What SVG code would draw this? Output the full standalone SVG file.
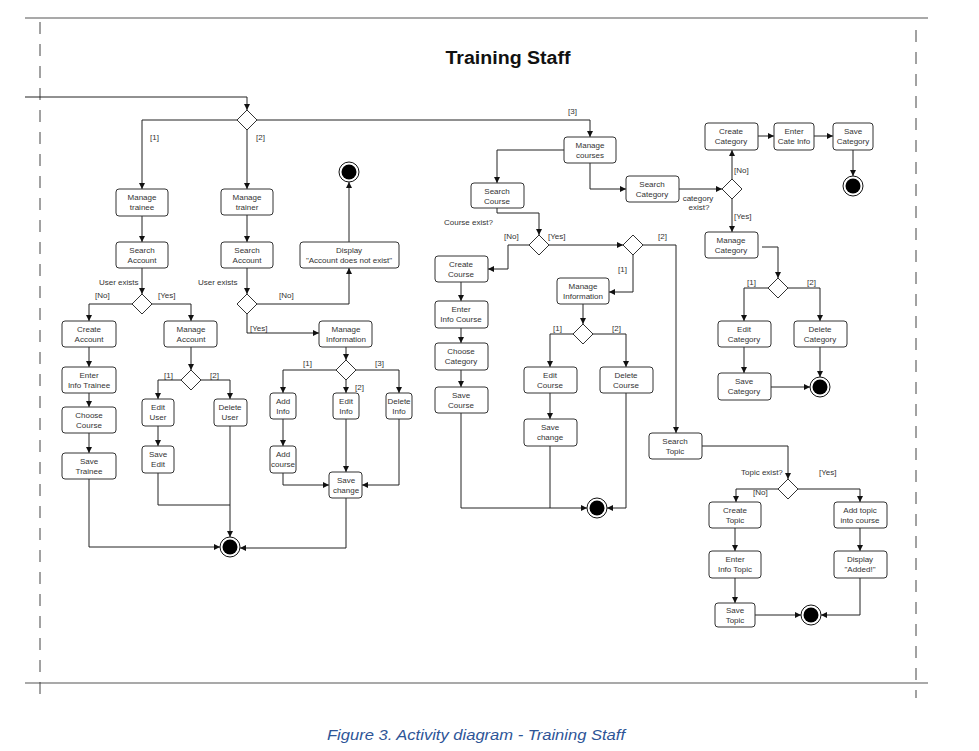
<svg xmlns="http://www.w3.org/2000/svg" width="979" height="751" viewBox="0 0 979 751">
<defs>
<marker id="arr" markerUnits="userSpaceOnUse" markerWidth="7" markerHeight="6" refX="6" refY="3" orient="auto"><path d="M0,0 L6,3 L0,6 z" fill="#111"/></marker>
<style>
.box{fill:#fff;stroke:#333;stroke-width:1}
.dia{fill:#fff;stroke:#333;stroke-width:1}
.t{font-family:"Liberation Sans",Arial,sans-serif;font-size:8px;fill:#333;text-anchor:middle}
.l{font-family:"Liberation Sans",Arial,sans-serif;font-size:8px;fill:#333}
.c path{fill:none;stroke:#222;stroke-width:1}
.c path.a{marker-end:url(#arr)}
.fo{fill:#fff;stroke:#111;stroke-width:1}
.fi{fill:#000}
.frame{stroke:#555;stroke-width:1.2;fill:none}
.dash{stroke:#444;stroke-width:1;stroke-dasharray:12 10;fill:none}
</style>
</defs>
<rect width="979" height="751" fill="#fff"/>
<g id="frame">
<line class="frame" x1="25" y1="18" x2="928" y2="18"/>
<line class="frame" x1="25" y1="683" x2="928" y2="683"/>
<line class="dash" x1="40" y1="22" x2="40" y2="694"/>
<line class="dash" x1="916" y1="30" x2="916" y2="698"/>
<text x="508" y="64" font-family="'Liberation Sans',Arial,sans-serif" font-size="18" font-weight="bold" text-anchor="middle" fill="#111" textLength="125" lengthAdjust="spacingAndGlyphs">Training Staff</text>
<text x="476" y="740" font-family="'Liberation Sans',Arial,sans-serif" font-size="15" font-style="italic" text-anchor="middle" fill="#2E5597" textLength="298" lengthAdjust="spacingAndGlyphs">Figure 3. Activity diagram - Training Staff</text>
</g>
<g id="connectors" class="c">
<path class="a" d="M25,97 H247 V110"/>
<path class="a" d="M237,120 H142 V189"/>
<path class="a" d="M247,130 V189"/>
<path class="a" d="M257,120 H590 V137"/>
<path class="a" d="M142,216 V242"/>
<path class="a" d="M247,215 V242"/>
<path class="a" d="M142,268 V294"/>
<path class="a" d="M132,304 H89 V321"/>
<path class="a" d="M152,304 H191 V321"/>
<path class="a" d="M89,347 V367"/>
<path class="a" d="M89,393 V407"/>
<path class="a" d="M89,433 V453"/>
<path class="a" d="M89,479 V547 H220"/>
<path class="a" d="M191,347 V370"/>
<path class="a" d="M181,380 H158 V399"/>
<path class="a" d="M201,380 H230 V399"/>
<path class="a" d="M158,426 V446"/>
<path d="M158,473 V505 H230"/>
<path class="a" d="M230,426 V537"/>
<path class="a" d="M247,268 V294"/>
<path class="a" d="M257,304 H349 V268"/>
<path class="a" d="M349,242 V182"/>
<path class="a" d="M247,314 V333 H319"/>
<path class="a" d="M346,347 V360"/>
<path class="a" d="M336,370 H283 V393"/>
<path class="a" d="M346,380 V393"/>
<path class="a" d="M356,370 H399 V393"/>
<path class="a" d="M283,419 V446"/>
<path class="a" d="M346,419 V472"/>
<path class="a" d="M283,473 V485 H329"/>
<path class="a" d="M399,419 V485 H362"/>
<path class="a" d="M346,498 V548 H240"/>
<path class="a" d="M564,150 H497 V183"/>
<path class="a" d="M590,163 V189 H626"/>
<path class="a" d="M497,208 V213 H539 V235"/>
<path class="a" d="M529,245 H508 V269 H488"/>
<path class="a" d="M549,245 H623"/>
<path class="a" d="M633,255 V292 H609"/>
<path class="a" d="M643,245 H676 V433"/>
<path class="a" d="M461,282 V301"/>
<path class="a" d="M461,328 V343"/>
<path class="a" d="M461,370 V387"/>
<path class="a" d="M461,413 V508 H587"/>
<path class="a" d="M583,304 V324"/>
<path class="a" d="M573,334 H550 V367"/>
<path class="a" d="M593,334 H626 V367"/>
<path class="a" d="M550,393 V419"/>
<path d="M550,446 V508"/>
<path class="a" d="M626,393 V508 H607"/>
<path class="a" d="M679,189 H722"/>
<path class="a" d="M732,179 V150"/>
<path class="a" d="M758,136 H774"/>
<path class="a" d="M814,136 H833"/>
<path class="a" d="M853,150 V176"/>
<path class="a" d="M732,199 V232"/>
<path class="a" d="M762,247 H778 V278"/>
<path class="a" d="M768,288 H744 V321"/>
<path class="a" d="M788,288 H820 V321"/>
<path class="a" d="M744,347 V373"/>
<path class="a" d="M771,387 H810"/>
<path class="a" d="M820,347 V377"/>
<path class="a" d="M702,446 H788 V479"/>
<path class="a" d="M778,489 H736 V502"/>
<path class="a" d="M798,489 H860 V502"/>
<path class="a" d="M735,528 V551"/>
<path class="a" d="M735,578 V603"/>
<path class="a" d="M755,615 H801"/>
<path class="a" d="M860,528 V551"/>
<path class="a" d="M860,578 V615 H821"/>
</g>
<g id="labels">
<text class="l" x="150" y="140">[1]</text>
<text class="l" x="256" y="140">[2]</text>
<text class="l" x="568" y="114">[3]</text>
<text class="l" x="99" y="285">User exists</text>
<text class="l" x="198" y="285">User exists</text>
<text class="l" x="95" y="298">[No]</text>
<text class="l" x="158" y="298">[Yes]</text>
<text class="l" x="279" y="298">[No]</text>
<text class="l" x="250" y="331">[Yes]</text>
<text class="l" x="164" y="378">[1]</text>
<text class="l" x="210" y="378">[2]</text>
<text class="l" x="303" y="366">[1]</text>
<text class="l" x="375" y="366">[3]</text>
<text class="l" x="355" y="390">[2]</text>
<text class="l" x="444" y="225">Course exist?</text>
<text class="l" x="504" y="239">[No]</text>
<text class="l" x="548" y="239">[Yes]</text>
<text class="l" x="658" y="239">[2]</text>
<text class="l" x="618" y="272">[1]</text>
<text class="l" x="553" y="331">[1]</text>
<text class="l" x="612" y="331">[2]</text>
<text class="t" x="698" y="201">category</text>
<text class="t" x="699" y="210">exist?</text>
<text class="l" x="734" y="173">[No]</text>
<text class="l" x="734" y="219">[Yes]</text>
<text class="l" x="747" y="285">[1]</text>
<text class="l" x="807" y="285">[2]</text>
<text class="l" x="741" y="475">Topic exist?</text>
<text class="l" x="819" y="475">[Yes]</text>
<text class="l" x="753" y="495">[No]</text>
</g>
<g id="d1"><polygon class="dia" points="247,110 257,120 247,130 237,120"/></g>
<g id="d2"><polygon class="dia" points="142,294 152,304 142,314 132,304"/></g>
<g id="d3"><polygon class="dia" points="247,294 257,304 247,314 237,304"/></g>
<g id="d4"><polygon class="dia" points="191,370 201,380 191,390 181,380"/></g>
<g id="d5"><polygon class="dia" points="346,360 356,370 346,380 336,370"/></g>
<g id="d6"><polygon class="dia" points="539,235 549,245 539,255 529,245"/></g>
<g id="d7"><polygon class="dia" points="633,235 643,245 633,255 623,245"/></g>
<g id="d8"><polygon class="dia" points="583,324 593,334 583,344 573,334"/></g>
<g id="d9"><polygon class="dia" points="732,179 742,189 732,199 722,189"/></g>
<g id="d10"><polygon class="dia" points="778,278 788,288 778,298 768,288"/></g>
<g id="d11"><polygon class="dia" points="788,479 798,489 788,499 778,489"/></g>
<g id="manage-trainee"><rect class="box" x="116" y="189" width="52" height="27" rx="3"/><text class="t" x="142" y="200">Manage</text><text class="t" x="142" y="210">trainee</text></g>
<g id="manage-trainer"><rect class="box" x="221" y="189" width="52" height="26" rx="3"/><text class="t" x="247" y="200">Manage</text><text class="t" x="247" y="210">trainer</text></g>
<g id="search-account-1"><rect class="box" x="116" y="242" width="52" height="26" rx="3"/><text class="t" x="142" y="253">Search</text><text class="t" x="142" y="263">Account</text></g>
<g id="search-account-2"><rect class="box" x="221" y="242" width="52" height="26" rx="3"/><text class="t" x="247" y="253">Search</text><text class="t" x="247" y="263">Account</text></g>
<g id="display-not-exist"><rect class="box" x="300" y="242" width="99" height="26" rx="3"/><text class="t" x="349" y="253">Display</text><text class="t" x="349" y="263">"Account does not exist"</text></g>
<g id="create-account"><rect class="box" x="62" y="321" width="54" height="26" rx="3"/><text class="t" x="89" y="332">Create</text><text class="t" x="89" y="342">Account</text></g>
<g id="manage-account"><rect class="box" x="164" y="321" width="53" height="26" rx="3"/><text class="t" x="191" y="332">Manage</text><text class="t" x="191" y="342">Account</text></g>
<g id="enter-info-trainee"><rect class="box" x="62" y="367" width="54" height="26" rx="3"/><text class="t" x="89" y="378">Enter</text><text class="t" x="89" y="388">Info Trainee</text></g>
<g id="choose-course"><rect class="box" x="62" y="407" width="54" height="26" rx="3"/><text class="t" x="89" y="418">Choose</text><text class="t" x="89" y="428">Course</text></g>
<g id="save-trainee"><rect class="box" x="62" y="453" width="54" height="26" rx="3"/><text class="t" x="89" y="464">Save</text><text class="t" x="89" y="474">Trainee</text></g>
<g id="edit-user"><rect class="box" x="142" y="399" width="32" height="27" rx="3"/><text class="t" x="158" y="410">Edit</text><text class="t" x="158" y="420">User</text></g>
<g id="delete-user"><rect class="box" x="214" y="399" width="33" height="27" rx="3"/><text class="t" x="230" y="410">Delete</text><text class="t" x="230" y="420">User</text></g>
<g id="save-edit"><rect class="box" x="142" y="446" width="32" height="27" rx="3"/><text class="t" x="158" y="457">Save</text><text class="t" x="158" y="467">Edit</text></g>
<g id="manage-information-1"><rect class="box" x="319" y="321" width="53" height="26" rx="3"/><text class="t" x="346" y="332">Manage</text><text class="t" x="346" y="342">Information</text></g>
<g id="add-info"><rect class="box" x="270" y="393" width="26" height="26" rx="3"/><text class="t" x="283" y="404">Add</text><text class="t" x="283" y="414">Info</text></g>
<g id="edit-info"><rect class="box" x="333" y="393" width="26" height="26" rx="3"/><text class="t" x="346" y="404">Edit</text><text class="t" x="346" y="414">Info</text></g>
<g id="delete-info"><rect class="box" x="386" y="393" width="26" height="26" rx="3"/><text class="t" x="399" y="404">Delete</text><text class="t" x="399" y="414">Info</text></g>
<g id="add-course"><rect class="box" x="270" y="446" width="26" height="27" rx="3"/><text class="t" x="283" y="457">Add</text><text class="t" x="283" y="467">course</text></g>
<g id="save-change-1"><rect class="box" x="329" y="472" width="33" height="26" rx="3"/><text class="t" x="346" y="483">Save</text><text class="t" x="346" y="493">change</text></g>
<g id="manage-courses"><rect class="box" x="564" y="137" width="52" height="26" rx="3"/><text class="t" x="590" y="148">Manage</text><text class="t" x="590" y="158">courses</text></g>
<g id="search-course"><rect class="box" x="471" y="183" width="53" height="25" rx="3"/><text class="t" x="497" y="194">Search</text><text class="t" x="497" y="204">Course</text></g>
<g id="search-category"><rect class="box" x="626" y="176" width="53" height="26" rx="3"/><text class="t" x="652" y="187">Search</text><text class="t" x="652" y="197">Category</text></g>
<g id="create-course"><rect class="box" x="435" y="256" width="53" height="26" rx="3"/><text class="t" x="461" y="267">Create</text><text class="t" x="461" y="277">Course</text></g>
<g id="enter-info-course"><rect class="box" x="435" y="301" width="53" height="27" rx="3"/><text class="t" x="461" y="312">Enter</text><text class="t" x="461" y="322">Info Course</text></g>
<g id="choose-category"><rect class="box" x="435" y="343" width="53" height="27" rx="3"/><text class="t" x="461" y="354">Choose</text><text class="t" x="461" y="364">Category</text></g>
<g id="save-course"><rect class="box" x="435" y="387" width="53" height="26" rx="3"/><text class="t" x="461" y="398">Save</text><text class="t" x="461" y="408">Course</text></g>
<g id="manage-information-2"><rect class="box" x="557" y="278" width="52" height="26" rx="3"/><text class="t" x="583" y="289">Manage</text><text class="t" x="583" y="299">Information</text></g>
<g id="edit-course"><rect class="box" x="524" y="367" width="53" height="26" rx="3"/><text class="t" x="550" y="378">Edit</text><text class="t" x="550" y="388">Course</text></g>
<g id="delete-course"><rect class="box" x="600" y="367" width="53" height="26" rx="3"/><text class="t" x="626" y="378">Delete</text><text class="t" x="626" y="388">Course</text></g>
<g id="save-change-2"><rect class="box" x="524" y="419" width="53" height="27" rx="3"/><text class="t" x="550" y="430">Save</text><text class="t" x="550" y="440">change</text></g>
<g id="search-topic"><rect class="box" x="649" y="433" width="53" height="26" rx="3"/><text class="t" x="675" y="444">Search</text><text class="t" x="675" y="454">Topic</text></g>
<g id="create-category"><rect class="box" x="705" y="123" width="53" height="27" rx="3"/><text class="t" x="731" y="134">Create</text><text class="t" x="731" y="144">Category</text></g>
<g id="enter-cate-info"><rect class="box" x="774" y="123" width="40" height="27" rx="3"/><text class="t" x="794" y="134">Enter</text><text class="t" x="794" y="144">Cate Info</text></g>
<g id="save-category-1"><rect class="box" x="833" y="123" width="40" height="27" rx="3"/><text class="t" x="853" y="134">Save</text><text class="t" x="853" y="144">Category</text></g>
<g id="manage-category"><rect class="box" x="705" y="232" width="53" height="26" rx="3"/><text class="t" x="731" y="243">Manage</text><text class="t" x="731" y="253">Category</text></g>
<g id="edit-category"><rect class="box" x="718" y="321" width="53" height="26" rx="3"/><text class="t" x="744" y="332">Edit</text><text class="t" x="744" y="342">Category</text></g>
<g id="delete-category"><rect class="box" x="794" y="321" width="53" height="26" rx="3"/><text class="t" x="820" y="332">Delete</text><text class="t" x="820" y="342">Category</text></g>
<g id="save-category-2"><rect class="box" x="718" y="373" width="53" height="27" rx="3"/><text class="t" x="744" y="384">Save</text><text class="t" x="744" y="394">Category</text></g>
<g id="create-topic"><rect class="box" x="709" y="502" width="52" height="26" rx="3"/><text class="t" x="735" y="513">Create</text><text class="t" x="735" y="523">Topic</text></g>
<g id="enter-info-topic"><rect class="box" x="709" y="551" width="52" height="27" rx="3"/><text class="t" x="735" y="562">Enter</text><text class="t" x="735" y="572">Info Topic</text></g>
<g id="save-topic"><rect class="box" x="715" y="603" width="40" height="24" rx="3"/><text class="t" x="735" y="613">Save</text><text class="t" x="735" y="623">Topic</text></g>
<g id="add-topic"><rect class="box" x="834" y="502" width="53" height="26" rx="3"/><text class="t" x="860" y="513">Add topic</text><text class="t" x="860" y="523">into course</text></g>
<g id="display-added"><rect class="box" x="834" y="551" width="53" height="27" rx="3"/><text class="t" x="860" y="562">Display</text><text class="t" x="860" y="572">"Added!"</text></g>
<g id="final-1"><circle class="fo" cx="230" cy="547" r="10"/><circle class="fi" cx="230" cy="547" r="7.5"/></g>
<g id="final-2"><circle class="fo" cx="349" cy="172" r="10"/><circle class="fi" cx="349" cy="172" r="7.5"/></g>
<g id="final-3"><circle class="fo" cx="597" cy="508" r="10"/><circle class="fi" cx="597" cy="508" r="7.5"/></g>
<g id="final-4"><circle class="fo" cx="853" cy="186" r="10"/><circle class="fi" cx="853" cy="186" r="7.5"/></g>
<g id="final-5"><circle class="fo" cx="820" cy="387" r="10"/><circle class="fi" cx="820" cy="387" r="7.5"/></g>
<g id="final-6"><circle class="fo" cx="811" cy="615" r="10"/><circle class="fi" cx="811" cy="615" r="7.5"/></g>
</svg>
